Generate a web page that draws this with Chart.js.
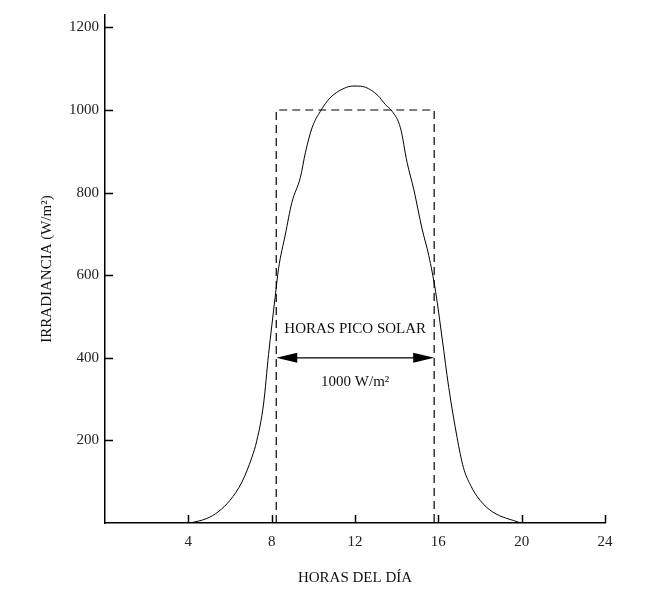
<!DOCTYPE html>
<html>
<head>
<meta charset="utf-8">
<script src="https://cdn.jsdelivr.net/npm/chart.js@4.4.0/dist/chart.umd.min.js"></script>
<style>
  html, body { margin: 0; padding: 0; background: #fff; }
  #wrap { width: 645px; height: 591px; }
</style>
</head>
<body>
<div id="wrap"><canvas id="myChart"></canvas></div>
<script>
// curva de irradiancia (hora, W/m2)
var horas = [4.09, 4.89, 5.43, 6.0, 6.57, 7.05, 7.29, 7.61, 7.85, 8.17, 8.33, 8.65, 8.97, 9.38, 9.62, 9.94, 10.34, 10.8, 11.6, 12.0, 12.5, 13.1, 13.46, 13.78, 14.18, 14.5, 14.82, 15.22, 15.54, 15.87, 16.18, 16.5, 16.9, 17.2, 17.55, 18.0, 18.6, 19.95]
var irradiancia = [0, 11, 27, 55, 99, 159, 200, 288, 408, 548, 616, 697, 776, 837, 897, 957, 997, 1029, 1055, 1058, 1055, 1035, 1013, 997, 957, 873, 808, 712, 648, 560, 448, 328, 207, 135, 91, 55, 27, 0]

// rectangulo de horas pico solar
var rectHoras = [8.22, 8.22, 15.8, 15.8]
var rectValores = [0, 1000, 1000, 0]

// flecha
var flechaHoras = [8.22, 15.8]
var flechaValor = 400

var xTicks = [0, 4, 8, 12, 16, 20, 24]
var yTicks = [0, 200, 400, 600, 800, 1000, 1200]

var fuente = "'Liberation Serif', 'Times New Roman', serif"

var curva = horas.map(function(h, i) { return {x: h, y: irradiancia[i]} })
var rect = rectHoras.map(function(h, i) { return {x: h, y: rectValores[i]} })

// marcas hacia adentro, flecha y textos
var extras = {
    id: 'extras',
    afterDraw: function(chart) {
        var ctx = chart.ctx
        var xs = chart.scales.x
        var ys = chart.scales.y
        var x0 = xs.getPixelForValue(0)
        var y0 = ys.getPixelForValue(0)
        ctx.save()
        ctx.strokeStyle = '#000'
        ctx.lineWidth = 1.5
        ctx.beginPath()
        xTicks.forEach(function(t) {
            if (t === 0) return
            var px = Math.round(xs.getPixelForValue(t)) + 0.5
            ctx.moveTo(px, y0)
            ctx.lineTo(px, y0 - 8)
        })
        yTicks.forEach(function(t) {
            if (t === 0) return
            var py = Math.round(ys.getPixelForValue(t)) + 0.5
            ctx.moveTo(x0, py)
            ctx.lineTo(x0 + 8, py)
        })
        ctx.stroke()

        // flecha doble
        var ax1 = xs.getPixelForValue(flechaHoras[0])
        var ax2 = xs.getPixelForValue(flechaHoras[1])
        var ay = ys.getPixelForValue(flechaValor)
        ctx.lineWidth = 1.2
        ctx.beginPath()
        ctx.moveTo(ax1 + 18, ay)
        ctx.lineTo(ax2 - 18, ay)
        ctx.stroke()
        ctx.fillStyle = '#000'
        ctx.beginPath()
        ctx.moveTo(ax1, ay)
        ctx.lineTo(ax1 + 21, ay - 5)
        ctx.lineTo(ax1 + 21, ay + 5)
        ctx.closePath()
        ctx.fill()
        ctx.beginPath()
        ctx.moveTo(ax2, ay)
        ctx.lineTo(ax2 - 21, ay - 5)
        ctx.lineTo(ax2 - 21, ay + 5)
        ctx.closePath()
        ctx.fill()

        var cx = (ax1 + ax2) / 2
        ctx.fillStyle = '#111'
        ctx.font = "15px " + fuente
        ctx.textAlign = 'center'
        ctx.textBaseline = 'middle'
        ctx.fillText('HORAS PICO SOLAR', cx, ay - 29)
        ctx.fillText('1000 W/m²', cx, ay + 24)
        ctx.restore()
    }
}

var myChart = document.getElementById("myChart").getContext('2d')

var chart = new Chart(myChart, {
    type: 'line',
    data: {
        datasets: [{
                label: 'Irradiancia',
                data: curva,
                borderColor: '#000',
                borderWidth: 1,
                pointRadius: 0,
                cubicInterpolationMode: 'monotone',
                fill: false
            },
            {
                label: 'Horas pico',
                data: rect,
                borderColor: '#000',
                borderWidth: 1.2,
                borderDash: [8, 5],
                pointRadius: 0,
                tension: 0,
                fill: false
            }
        ]
    },
    options: {
        responsive: true,
        maintainAspectRatio: false,
        animation: false,
        layout: { padding: { top: 11, right: 40, left: 0, bottom: 0 } },
        plugins: {
            legend: { display: false },
            tooltip: { enabled: false }
        },
        scales: {
            x: {
                type: 'linear',
                min: 0,
                max: 24,
                afterBuildTicks: function(scale) {
                    scale.ticks = xTicks.map(function(v) { return {value: v} })
                },
                afterFit: function(scale) { scale.height = 68 },
                grid: { display: false, drawTicks: false },
                border: { display: true, color: '#000', width: 1.5 },
                ticks: {
                    padding: 10,
                    color: '#222',
                    font: { family: fuente, size: 15 },
                    callback: function(v) { return v === 0 ? '' : v }
                },
                title: {
                    display: true,
                    text: 'HORAS DEL DÍA',
                    color: '#111',
                    font: { family: fuente, size: 15 },
                    padding: { top: 16 }
                }
            },
            y: {
                type: 'linear',
                min: 0,
                max: 1230,
                afterBuildTicks: function(scale) {
                    scale.ticks = yTicks.map(function(v) { return {value: v} })
                },
                afterFit: function(scale) { scale.width = 105 },
                grid: { display: false, drawTicks: false },
                border: { display: true, color: '#000', width: 1.5 },
                ticks: {
                    padding: 6,
                    color: '#222',
                    font: { family: fuente, size: 15 },
                    callback: function(v) { return v === 0 ? '' : v }
                },
                title: {
                    display: true,
                    text: 'IRRADIANCIA (W/m²)',
                    color: '#111',
                    font: { family: fuente, size: 15 },
                    padding: { top: 38, bottom: 0 }
                }
            }
        }
    },
    plugins: [extras]
})
</script>
</body>
</html>
